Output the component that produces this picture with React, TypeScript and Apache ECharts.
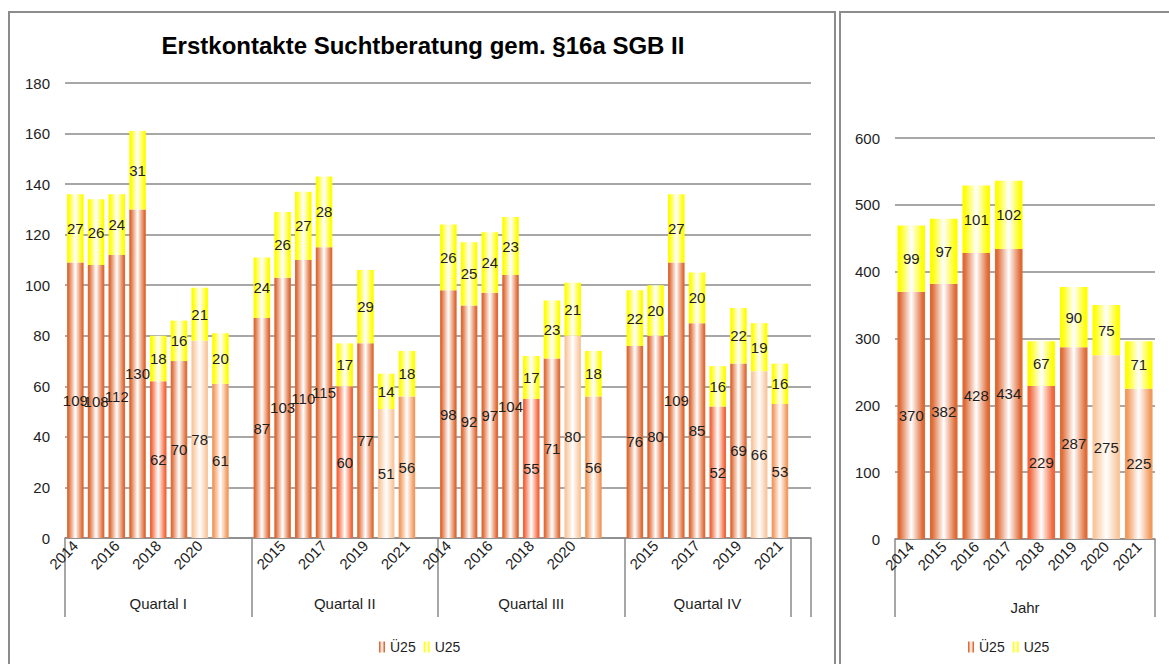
import React, { useEffect, useRef } from 'react';
import * as echarts from 'echarts';

// ---------- data ----------
const years = ['2014', '2015', '2016', '2017', '2018', '2019', '2020', '2021'];
const quarters = ['Quartal I', 'Quartal II', 'Quartal III', 'Quartal IV'];
const yearGroupName = 'Jahr';
const seriesNames = ['Ü25', 'U25'];

const q1Ue25 = [109, 108, 112, 130, 62, 70, 78, 61];
const q1U25 = [27, 26, 24, 31, 18, 16, 21, 20];
const q2Ue25 = [87, 103, 110, 115, 60, 77, 51, 56];
const q2U25 = [24, 26, 27, 28, 17, 29, 14, 18];
const q3Ue25 = [98, 92, 97, 104, 55, 71, 80, 56];
const q3U25 = [26, 25, 24, 23, 17, 23, 21, 18];
const q4Ue25 = [76, 80, 109, 85, 52, 69, 66, 53];
const q4U25 = [22, 20, 27, 20, 16, 22, 19, 16];

const yearUe25 = [370, 382, 428, 434, 229, 287, 275, 225];
const yearU25 = [99, 97, 101, 102, 67, 90, 75, 71];

const leftAxis = { min: 0, max: 180, interval: 20 };
const rightAxis = { min: 0, max: 600, interval: 100 };

const title = 'Erstkontakte Suchtberatung gem. §16a SGB II';

// ---------- styles ----------
const FONT = 'Liberation Sans, Arial, sans-serif';
const TEXT = '#1e1e1e';
const FS = 15;
const GRID_COLOR = '#8a8a8a';
const ue25Colors = ['#DF6A34', '#DF6A34', '#DF6A34', '#DF6A34', '#F2663A', '#E06E38', '#F8C79E', '#F29A5E'];
const u25Color = '#FFFF00';

function grad(c: string) {
  return new echarts.graphic.LinearGradient(0, 0, 1, 0, [
    { offset: 0, color: c },
    { offset: 0.08, color: c },
    { offset: 0.5, color: '#FFFFFF' },
    { offset: 0.92, color: c },
    { offset: 1, color: c },
  ]);
}

function buildOption() {
  const qUe = [q1Ue25, q2Ue25, q3Ue25, q4Ue25];
  const qU = [q1U25, q2U25, q3U25, q4U25];

  // categories: each quarter's years followed by one empty slot
  const cats: string[] = [];
  const ueData: any[] = [];
  const uData: any[] = [];
  const groupTicks: number[] = [];
  const groupCenters: { v: number; name: string }[] = [];
  quarters.forEach((q, qi) => {
    const start = cats.length;
    years.forEach((y, yi) => {
      cats.push(y);
      ueData.push({ value: qUe[qi][yi], itemStyle: { color: grad(ue25Colors[yi]) } });
      uData.push({ value: qU[qi][yi], itemStyle: { color: grad(u25Color) } });
    });
    const end = qi < quarters.length - 1 ? cats.length + 1 : cats.length;
    groupTicks.push(start);
    groupCenters.push({ v: (start + end) / 2, name: q });
    cats.push('');
    ueData.push('-');
    uData.push('-');
  });
  groupTicks.push(cats.length - 1, cats.length);

  const yUe = yearUe25.map((v, i) => ({ value: v, itemStyle: { color: grad(ue25Colors[i]) } }));
  const yU = yearU25.map((v) => ({ value: v, itemStyle: { color: grad(u25Color) } }));

  const labelStyle = {
    show: true,
    position: 'inside',
    color: TEXT,
    fontSize: FS,
    fontFamily: FONT,
  };

  const catAxisBase = {
    type: 'category',
    axisLine: { show: true, lineStyle: { color: GRID_COLOR, width: 1.5 } },
    axisTick: { show: false },
    splitLine: { show: false },
  };

  const valAxisBase = {
    type: 'value',
    axisLine: { show: false },
    axisTick: { show: false },
    splitLine: { show: true, lineStyle: { color: GRID_COLOR, width: 1.5 } },
    axisLabel: { color: TEXT, fontSize: FS, fontFamily: FONT, margin: 15 },
  };

  const legendBase = {
    data: seriesNames,
    top: 635,
    icon: 'rect',
    itemWidth: 6,
    itemHeight: 11,
    itemGap: 8,
    textStyle: { color: TEXT, fontSize: 14, fontFamily: FONT },
  };

  return {
    animation: false,
    textStyle: { fontFamily: FONT },
    grid: [
      { left: 65, right: 358, top: 83, bottom: 126 },
      { left: 895, right: 14, top: 138, bottom: 125 },
    ],
    xAxis: [
      {
        ...catAxisBase,
        gridIndex: 0,
        data: cats,
        axisLabel: { interval: 1, rotate: 45, margin: 5, color: TEXT, fontSize: FS, fontFamily: FONT },
      },
      {
        type: 'value',
        gridIndex: 0,
        position: 'bottom',
        min: 0,
        max: cats.length,
        axisLine: { show: false },
        splitLine: { show: false },
        axisTick: {
          show: true,
          customValues: groupTicks,
          length: 79,
          lineStyle: { color: GRID_COLOR, width: 1.5 },
        },
        axisLabel: {
          customValues: groupCenters.map((g) => g.v),
          formatter: (v: number) => {
            const g = groupCenters.find((x) => Math.abs(x.v - v) < 0.01);
            return g ? g.name : '';
          },
          margin: 58,
          color: TEXT,
          fontSize: FS,
          fontFamily: FONT,
        },
      },
      {
        ...catAxisBase,
        gridIndex: 1,
        data: years,
        axisLabel: { interval: 0, rotate: 45, margin: 5, color: TEXT, fontSize: FS, fontFamily: FONT },
      },
      {
        type: 'value',
        gridIndex: 1,
        position: 'bottom',
        min: 0,
        max: years.length,
        axisLine: { show: false },
        splitLine: { show: false },
        axisTick: {
          show: true,
          customValues: [0, years.length],
          length: 78,
          lineStyle: { color: GRID_COLOR, width: 1.5 },
        },
        axisLabel: {
          customValues: [years.length / 2],
          formatter: () => yearGroupName,
          margin: 61,
          color: TEXT,
          fontSize: FS,
          fontFamily: FONT,
        },
      },
    ],
    yAxis: [
      { ...valAxisBase, gridIndex: 0, ...leftAxis },
      { ...valAxisBase, gridIndex: 1, ...rightAxis },
    ],
    legend: [
      { ...legendBase, left: 374 },
      { ...legendBase, left: 963 },
    ],
    graphic: [
      {
        type: 'rect',
        shape: { x: 9, y: 12, width: 826, height: 700 },
        style: { fill: 'none', stroke: '#8c8c8c', lineWidth: 2 },
        silent: true,
      },
      {
        type: 'rect',
        shape: { x: 840, y: 12, width: 400, height: 700 },
        style: { fill: 'none', stroke: '#8c8c8c', lineWidth: 2 },
        silent: true,
      },
      {
        type: 'text',
        x: 423,
        y: 45,
        style: {
          text: title,
          fill: '#000',
          font: `bold 24px ${FONT}`,
          align: 'center',
          verticalAlign: 'middle',
        },
      },
    ],
    series: [
      {
        name: seriesNames[0],
        type: 'bar',
        stack: 'q',
        xAxisIndex: 0,
        yAxisIndex: 0,
        barCategoryGap: '20%',
        data: ueData,
        itemStyle: { color: grad(ue25Colors[0]) },
        label: labelStyle,
      },
      {
        name: seriesNames[1],
        type: 'bar',
        stack: 'q',
        xAxisIndex: 0,
        yAxisIndex: 0,
        barCategoryGap: '20%',
        data: uData,
        itemStyle: { color: grad(u25Color) },
        label: labelStyle,
      },
      {
        name: seriesNames[0],
        type: 'bar',
        stack: 'y',
        xAxisIndex: 2,
        yAxisIndex: 1,
        barCategoryGap: '15%',
        data: yUe,
        itemStyle: { color: grad(ue25Colors[0]) },
        label: labelStyle,
      },
      {
        name: seriesNames[1],
        type: 'bar',
        stack: 'y',
        xAxisIndex: 2,
        yAxisIndex: 1,
        barCategoryGap: '15%',
        data: yU,
        itemStyle: { color: grad(u25Color) },
        label: labelStyle,
      },
    ],
  };
}

export default function App() {
  const ref = useRef<HTMLDivElement>(null);
  useEffect(() => {
    if (!ref.current) return;
    const chart = echarts.init(ref.current, null, { renderer: 'svg' });
    chart.setOption(buildOption() as any);
    return () => chart.dispose();
  }, []);
  return (
    <div
      ref={ref}
      style={{ position: 'absolute', left: 0, top: 0, width: 1169, height: 664, background: '#fff' }}
    />
  );
}
